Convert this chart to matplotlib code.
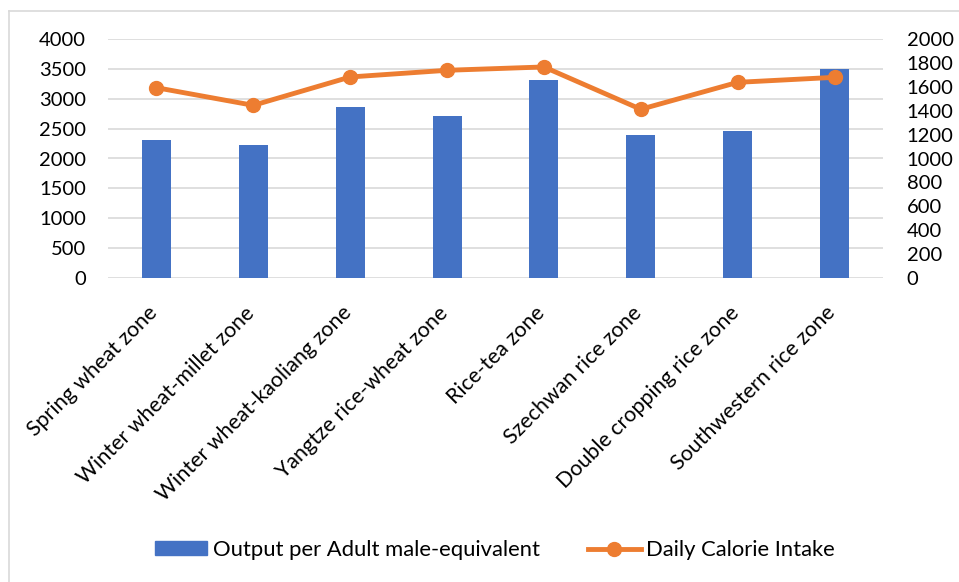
import matplotlib
matplotlib.use("Agg")
import matplotlib.pyplot as plt
import matplotlib.transforms as mtransforms
from matplotlib.lines import Line2D
import numpy as np

plt.rcParams['font.family'] = ['Lato', 'DejaVu Sans']

zones = [
    "Spring wheat zone",
    "Winter wheat-millet zone",
    "Winter wheat-kaoliang zone",
    "Yangtze rice-wheat zone",
    "Rice-tea zone",
    "Szechwan rice zone",
    "Double cropping rice zone",
    "Southwestern rice zone",
]
output_per_adult = [2310, 2221, 2869, 2708, 3317, 2399, 2466, 3507]
daily_calories = [1594, 1446, 1684, 1740, 1768, 1413, 1639, 1681]
left_ticks = [0, 500, 1000, 1500, 2000, 2500, 3000, 3500, 4000]
right_ticks = [0, 200, 400, 600, 800, 1000, 1200, 1400, 1600, 1800, 2000]

W, H = 959, 582
fig = plt.figure(figsize=(W / 100, H / 100), dpi=100)
ax = fig.add_axes([108 / W, 1 - 277.7 / H, (883 - 108) / W, (277.7 - 39.3) / H])
ax2 = ax.twinx()

blue = "#4472C4"
orange = "#ED7D31"
grid = "#D9D9D9"

x = np.arange(len(zones))
ax.bar(x, output_per_adult, width=0.3, color=blue, zorder=2)
ax.set_xlim(-0.5, len(zones) - 0.5)
ax.set_ylim(0, 4000)
ax.set_yticks(left_ticks)
ax.yaxis.grid(True, color=grid, linewidth=1.2, zorder=0)
ax.set_axisbelow(True)

ax2.plot(x, daily_calories, color=orange, linewidth=3.5, marker='o',
         markersize=10, zorder=3)
ax2.set_ylim(0, 2000)
ax2.set_yticks(right_ticks)

for a in (ax, ax2):
    for s in a.spines.values():
        s.set_visible(False)
    a.tick_params(length=0, labelsize=14.5, colors="black")
ax.tick_params(axis='y', pad=16)
ax2.tick_params(axis='y', pad=17)

ax.set_xticks(x)
ax.set_xticklabels(zones, rotation=45, ha='right', va='top', fontsize=15.4)
ax.tick_params(axis='x', pad=18)
shift = mtransforms.ScaledTranslation(5 / 100, 0, fig.dpi_scale_trans)
for lbl in ax.get_xticklabels():
    lbl.set_transform(lbl.get_transform() + shift)

# chart-area frame (top and left edges)
fig.add_artist(Line2D([9 / W, 1], [1 - 11 / H, 1 - 11 / H], color="#D9D9D9",
                      linewidth=1.2, transform=fig.transFigure))
fig.add_artist(Line2D([9 / W, 9 / W], [0, 1 - 11 / H], color="#D9D9D9",
                      linewidth=1.2, transform=fig.transFigure))

handles = [
    plt.Rectangle((0, 0), 1, 1, color=blue),
    Line2D([], [], color=orange, linewidth=3.5, marker='o', markersize=10),
]
fig.legend(handles, ["Output per Adult male-equivalent", "Daily Calorie Intake"],
           loc='center', bbox_to_anchor=(0.516, 1 - 550 / H), ncol=2,
           frameon=False, fontsize=15.8, handlelength=2.4, handleheight=0.6,
           handletextpad=0.25, columnspacing=2.2)

fig.savefig("out.png", dpi=100)
